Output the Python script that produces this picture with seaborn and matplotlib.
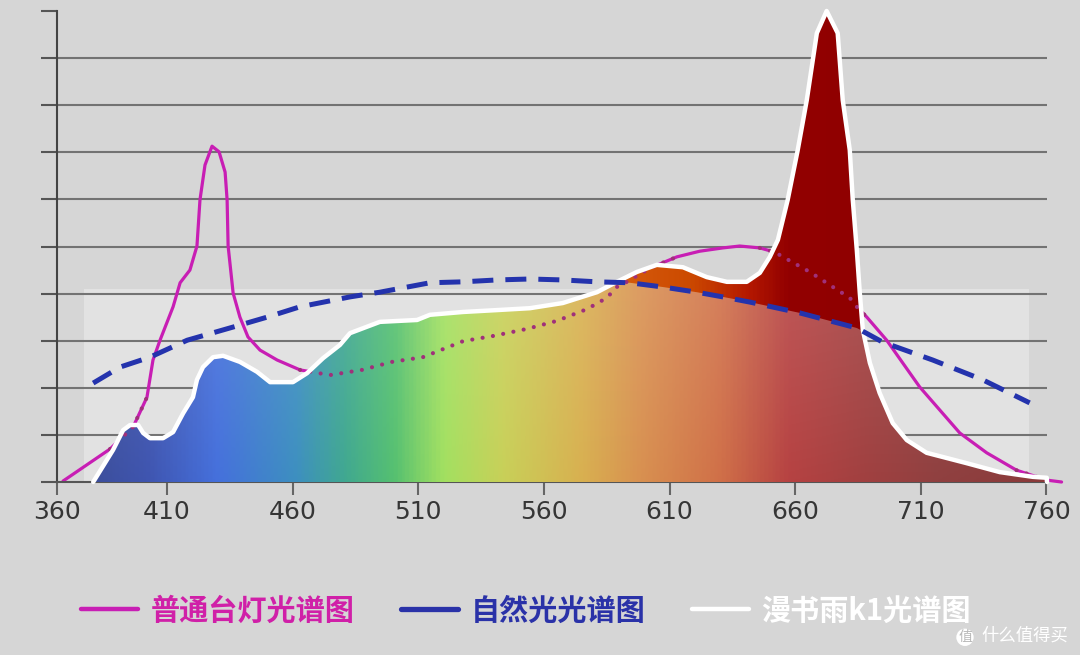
import numpy as np
import pandas as pd
import matplotlib
matplotlib.use("Agg")
import matplotlib.pyplot as plt
import seaborn as sns
from matplotlib.colors import LinearSegmentedColormap
from matplotlib.patches import Polygon, Rectangle
from matplotlib.lines import Line2D
from matplotlib.font_manager import FontProperties

# ordinary desk lamp spectrum (wavelength nm, relative intensity)
lamp_nm = [368.6, 387.3, 396.5, 402.0, 404.4, 407.2, 412.4, 415.2, 419.1, 421.9,
           423.1, 425.1, 427.9, 430.7, 433.1, 433.9, 434.3, 436.3, 439.0, 442.2,
           447.0, 453.8, 462.9, 474.8, 487.6, 499.5, 511.8, 519.8, 527.8, 539.7,
           553.2, 565.1, 577.1, 585.0, 589.0, 593.0, 602.1, 612.9, 622.0, 631.2,
           637.9, 645.9, 651.9, 655.1, 665.8, 675.0, 681.7, 684.5, 688.5, 696.4,
           709.5, 725.5, 736.2, 748.1, 760.1, 766.0]
lamp_val = [0.02, 0.70, 1.17, 1.80, 2.59, 3.01, 3.72, 4.23, 4.50, 5.01,
            5.99, 6.73, 7.13, 7.01, 6.58, 5.99, 5.01, 4.01, 3.50, 3.08,
            2.80, 2.59, 2.38, 2.27, 2.38, 2.55, 2.65, 2.82, 2.99, 3.10,
            3.25, 3.42, 3.67, 3.91, 4.14, 4.25, 4.54, 4.78, 4.90, 4.97,
            5.01, 4.97, 4.88, 4.78, 4.46, 4.14, 3.91, 3.72, 3.50, 3.01,
            2.02, 1.04, 0.62, 0.25, 0.04, 0.0]

# natural light spectrum
natural_nm = [380.6, 391.3, 403.2, 418.0, 436.3, 449.8, 462.9, 482.8, 494.7, 514.6,
              527.8, 541.3, 554.4, 567.5, 581.1, 594.2, 607.3, 620.8, 631.2, 641.9,
              661.8, 684.5, 694.8, 714.7, 734.6, 753.3]
natural_val = [2.10, 2.44, 2.65, 3.01, 3.29, 3.50, 3.72, 3.93, 4.03, 4.23,
               4.25, 4.29, 4.31, 4.29, 4.25, 4.23, 4.14, 4.03, 3.93, 3.82,
               3.59, 3.27, 2.97, 2.59, 2.17, 1.68]

# 漫书雨 k1 spectrum
k1_nm = [380.6, 388.5, 392.5, 395.3, 398.5, 400.5, 403.2, 408.4, 412.4, 416.4,
         420.3, 421.9, 424.3, 428.3, 432.3, 439.0, 445.8, 451.0, 460.1, 465.7,
         472.1, 478.8, 482.8, 494.7, 509.5, 514.6, 527.8, 541.3, 554.4, 567.5,
         581.1, 589.0, 597.0, 604.9, 615.3, 624.8, 632.8, 640.7, 645.9, 649.9,
         653.1, 657.0, 661.0, 664.6, 668.6, 672.5, 676.9, 678.9, 681.7, 682.9,
         684.5, 685.7, 686.9, 689.7, 693.6, 698.8, 704.4, 712.3, 728.2, 741.4,
         754.5, 760.1, 760.2]
k1_val = [0.0, 0.68, 1.10, 1.21, 1.21, 1.04, 0.93, 0.93, 1.06, 1.46,
          1.80, 2.17, 2.44, 2.65, 2.68, 2.55, 2.34, 2.12, 2.12, 2.31,
          2.63, 2.91, 3.16, 3.40, 3.44, 3.55, 3.61, 3.65, 3.69, 3.80,
          4.03, 4.25, 4.46, 4.61, 4.56, 4.35, 4.25, 4.25, 4.44, 4.78,
          5.14, 5.99, 7.05, 8.11, 9.53, 10.0, 9.53, 8.11, 7.05, 5.99,
          4.93, 4.01, 3.23, 2.53, 1.89, 1.25, 0.89, 0.62, 0.40, 0.21,
          0.11, 0.09, 0.0]

xtick_values = [360, 410, 460, 510, 560, 610, 660, 710, 760]
xtick_labels = ["360", "410", "460", "510", "560", "610", "660", "710", "760"]
legend_labels = ["普通台灯光谱图", "自然光光谱图", "漫书雨k1光谱图"]

BG = "#d6d6d6"
PINK = "#c81eb4"
BLUE = "#2433ad"
X_LEFT, X_RIGHT = 366.2, 760.2

sns.set_theme(style="white", rc={"figure.facecolor": BG, "axes.facecolor": BG})
plt.rcParams["font.family"] = ["Noto Sans CJK SC", "DejaVu Sans"]

fig = plt.figure(figsize=(10.8, 6.55), dpi=100)
ax = fig.add_axes([57 / 1080, 173 / 655, 990 / 1080, 471 / 655])
ax.set_xlim(X_LEFT, X_RIGHT)
ax.set_ylim(0, 10)

# light backdrop panel behind the spectra
ax.add_patch(Rectangle((377, 0), 376, 4.1, facecolor="#e2e2e2", edgecolor="none", zorder=0.5))

# horizontal grid
for yv in range(1, 10):
    ax.axhline(yv, color="#737373", lw=1.5, zorder=1)

lamp = pd.DataFrame({"nm": lamp_nm, "val": lamp_val})
natural = pd.DataFrame({"nm": natural_nm, "val": natural_val})
k1 = pd.DataFrame({"nm": k1_nm, "val": k1_val})

# ordinary lamp solid line, sits under the k1 fill
sns.lineplot(data=lamp, x="nm", y="val", ax=ax, color=PINK, lw=2.3, zorder=2,
             estimator=None, clip_on=False)

# gradient fills of the k1 spectrum
xs = np.linspace(X_LEFT, X_RIGHT, 700)
ys = np.linspace(0, 10, 300)
w_dense = np.interp(xs, k1.nm, k1.val)
d_dense = np.interp(xs, natural.nm, natural.val)
lower = np.minimum(w_dense, d_dense)

pastel = LinearSegmentedColormap.from_list("pastel", [
    (0.00, "#3a4a8e"), (0.09, "#3f55b0"), (0.16, "#4570dc"), (0.24, "#3d8fc0"),
    (0.29, "#40a890"), (0.34, "#55c070"), (0.39, "#a2e060"), (0.45, "#c8d058"),
    (0.53, "#d8b050"), (0.59, "#d89050"), (0.67, "#d07048"), (0.74, "#b64242"),
    (0.82, "#a04040"), (0.89, "#904040"), (1.00, "#8a3a3a")])
vivid = LinearSegmentedColormap.from_list("vivid", [
    (0.00, "#d86010"), (0.55, "#d86010"), (0.64, "#cc4a00"), (0.70, "#b41800"),
    (0.74, "#920000"), (1.00, "#8b0000")])

t = (xs - X_LEFT) / (X_RIGHT - X_LEFT)
pal_rgb = pastel(t)[:, :3]
light = np.clip(ys / 4.5, 0, 1)[:, None, None] * 0.12
pal_img = pal_rgb[None, :, :] * (1 - light) + light
viv_img = np.repeat(vivid(t)[None, :, :3], len(ys), axis=0)

k1_poly = Polygon(np.column_stack([np.r_[k1.nm, k1.nm.iloc[-1], k1.nm.iloc[0]],
                                   np.r_[k1.val, 0, 0]]),
                  closed=True, transform=ax.transData, fc="none", ec="none")
low_poly = Polygon(np.column_stack([np.r_[xs, xs[-1], xs[0]], np.r_[lower, 0, 0]]),
                   closed=True, transform=ax.transData, fc="none", ec="none")
ax.add_patch(k1_poly)
ax.add_patch(low_poly)

im1 = ax.imshow(viv_img, extent=[X_LEFT, X_RIGHT, 0, 10], origin="lower",
                aspect="auto", zorder=3, interpolation="bilinear")
im1.set_clip_path(k1_poly)
im2 = ax.imshow(pal_img, extent=[X_LEFT, X_RIGHT, 0, 10], origin="lower",
                aspect="auto", zorder=3.1, interpolation="bilinear")
im2.set_clip_path(low_poly)

# lamp curve seen through the fill as dots
w_at = np.interp(lamp.nm, k1.nm, k1.val)
below = (lamp.val.values < w_at)
show = below | np.roll(below, 1) | np.roll(below, -1)
ax.plot(lamp.nm, np.where(show, lamp.val, np.nan), color="#a0307a", lw=3.0,
        linestyle=(0, (0.01, 2.5)), dash_capstyle="round", zorder=4)

# k1 outline
sns.lineplot(data=k1, x="nm", y="val", ax=ax, color="white", lw=3.2, zorder=5,
             estimator=None, clip_on=False)

# natural light dashed
sns.lineplot(data=natural, x="nm", y="val", ax=ax, color=BLUE, lw=3.6, zorder=6,
             estimator=None, linestyle=(0, (4.2, 2.4)))

# axes styling
for side in ["top", "right"]:
    ax.spines[side].set_visible(False)
ax.spines["left"].set_color("#444444")
ax.spines["left"].set_linewidth(1.5)
ax.spines["bottom"].set_color("#555555")
ax.spines["bottom"].set_linewidth(1.5)

ax.set_yticks(range(0, 11))
ax.set_yticklabels([])
ax.tick_params(axis="y", direction="out", length=11.5, width=1.5, color="#555555", left=True)
ax.set_xticks(np.clip(xtick_values, X_LEFT, None))
ax.set_xticklabels(xtick_labels, fontsize=18, color="#363636", family="DejaVu Sans")
ax.tick_params(axis="x", direction="out", length=9, width=1.5, color="#666666", pad=4, bottom=True)
ax.set_xlabel("")
ax.set_ylabel("")

# legend
handles = [Line2D([], [], color=PINK, lw=3.2),
           Line2D([], [], color="#2a32a8", lw=3.8),
           Line2D([], [], color="white", lw=3.2)]
leg = fig.legend(handles, legend_labels, loc="center", bbox_to_anchor=(0.487, 0.068),
                 ncol=3, frameon=False, handlelength=1.95, handletextpad=0.43,
                 columnspacing=1.6,
                 prop=FontProperties(family=["Noto Sans CJK SC", "DejaVu Sans"],
                                     weight="bold", size=21))
for txt, col in zip(leg.get_texts(), ["#d020a8", "#2a32a8", "white"]):
    txt.set_color(col)

# watermark
fig.text(0.8935, 0.027, "值", fontsize=10, color="#b8b8b8", ha="center", va="center",
         bbox=dict(boxstyle="circle,pad=0.12", fc="white", ec="none"))
fig.text(0.909, 0.030, "什么值得买", fontsize=12.5, color="white", ha="left", va="center")

fig.savefig("out.png", dpi=100, facecolor=BG)
